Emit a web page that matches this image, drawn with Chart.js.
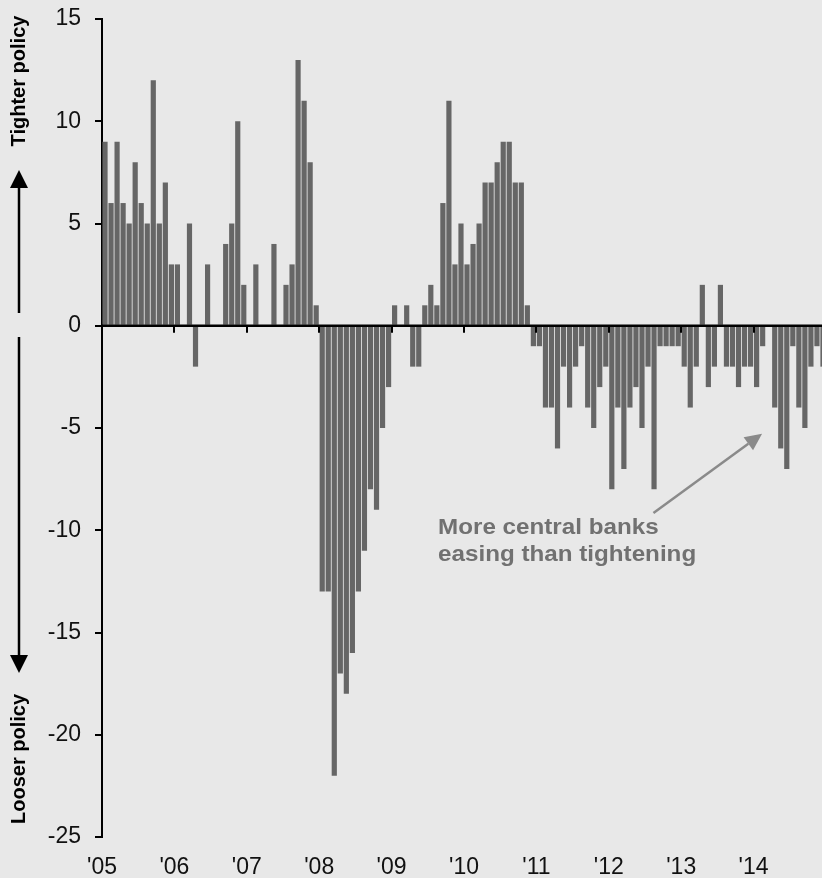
<!DOCTYPE html>
<html>
<head>
<meta charset="utf-8">
<script src="https://cdn.jsdelivr.net/npm/chart.js@4"></script>
<style>
  html, body { margin: 0; padding: 0; background: #e8e8e8; overflow: hidden; }
  #wrap { width: 828px; height: 878px; }
  canvas { display: block; }
</style>
</head>
<body>
<div id="wrap"><canvas id="chart" width="828" height="878"></canvas></div>
<script>
// Net number of central banks tightening minus easing, by month
const yearLabels = ["'05", "'06", "'07", "'08", "'09", "'10", "'11", "'12", "'13", "'14"];
const net2005 = [9, 6, 9, 6, 5, 8, 6, 5, 12, 5, 7, 3];
const net2006 = [3, 0, 5, -2, 0, 3, 0, 0, 4, 5, 10, 2];
const net2007 = [0, 3, 0, 0, 4, 0, 2, 3, 13, 11, 8, 1];
const net2008 = [-13, -13, -22, -17, -18, -16, -13, -11, -8, -9, -5, -3];
const net2009 = [1, 0, 1, -2, -2, 1, 2, 1, 6, 11, 3, 5];
const net2010 = [3, 4, 5, 7, 7, 8, 9, 9, 7, 7, 1, -1];
const net2011 = [-1, -4, -4, -6, -2, -4, -2, -1, -4, -5, -3, -2];
const net2012 = [-8, -4, -7, -4, -3, -5, -2, -8, -1, -1, -1, -1];
const net2013 = [-2, -4, -2, 2, -3, -2, 2, -2, -2, -3, -2, -2];
const net2014 = [-3, -1, 0, -4, -6, -7, -1, -4, -5, -2, -1, -2];
const yTicks = [-25, -20, -15, -10, -5, 0, 5, 10, 15];

const noteLines = ["More central banks", "easing than tightening"];

const monthly = [].concat(net2005, net2006, net2007, net2008, net2009,
                          net2010, net2011, net2012, net2013, net2014);
// each bar is centred within its month; year boundaries fall on multiples of 12
const points = monthly.map((v, i) => ({ x: i + 0.5, y: v }));

const FONT = '"Liberation Sans", Arial, Helvetica, sans-serif';

// zero line with year marks, side captions and the annotation arrow
const decorations = {
  id: 'decorations',
  afterDatasetsDraw(chart) {
    const { ctx, scales: { x, y }, chartArea } = chart;
    const y0 = y.getPixelForValue(0);
    ctx.save();
    ctx.strokeStyle = '#000';
    ctx.lineWidth = 2.5;
    ctx.beginPath();
    ctx.moveTo(chartArea.left, y0);
    ctx.lineTo(chart.width, y0);
    ctx.stroke();
    ctx.lineWidth = 2;
    ctx.beginPath();
    for (let i = 1; i < yearLabels.length; i++) {
      const px = Math.round(x.getPixelForValue(i * 12));
      ctx.moveTo(px, y0);
      ctx.lineTo(px, y0 + 7);
    }
    ctx.stroke();
    ctx.restore();
  },
  afterDraw(chart) {
    const { ctx, scales: { x, y } } = chart;
    ctx.save();

    // direction captions on the far left
    const cx = 19;
    ctx.fillStyle = '#000';
    ctx.strokeStyle = '#000';
    ctx.font = 'bold 20px ' + FONT;
    ctx.textAlign = 'center';
    ctx.textBaseline = 'middle';
    [['Tighter policy', 81], ['Looser policy', 759]].forEach(([t, cy]) => {
      ctx.save();
      ctx.translate(cx, cy);
      ctx.rotate(-Math.PI / 2);
      ctx.fillText(t, 0, 0);
      ctx.restore();
    });
    ctx.lineWidth = 2.5;
    ctx.beginPath();
    ctx.moveTo(cx, 313); ctx.lineTo(cx, 186);
    ctx.moveTo(cx, 337); ctx.lineTo(cx, 655);
    ctx.stroke();
    ctx.beginPath();
    ctx.moveTo(cx, 170); ctx.lineTo(cx - 9, 188); ctx.lineTo(cx + 9, 188); ctx.closePath();
    ctx.moveTo(cx, 673); ctx.lineTo(cx - 9, 655); ctx.lineTo(cx + 9, 655); ctx.closePath();
    ctx.fill();

    // annotation text, anchored in data units
    const tx = x.getPixelForValue(55.7);
    const ty = y.getPixelForValue(-10.2);
    ctx.fillStyle = '#717171';
    ctx.font = 'bold 22px ' + FONT;
    ctx.textAlign = 'left';
    ctx.textBaseline = 'alphabetic';
    noteLines.forEach((line, i) => {
      ctx.save();
      ctx.translate(tx, ty + i * 27);
      ctx.scale(1.1, 1);
      ctx.fillText(line, 0, 0);
      ctx.restore();
    });

    // arrow pointing at the recent easing bars
    const ax0 = x.getPixelForValue(91.4), ay0 = y.getPixelForValue(-9.16);
    const ax1 = x.getPixelForValue(109.4), ay1 = y.getPixelForValue(-5.28);
    const ang = Math.atan2(ay1 - ay0, ax1 - ax0);
    const headLen = 17, headHalf = 8;
    const bx = ax1 - headLen * Math.cos(ang), by = ay1 - headLen * Math.sin(ang);
    ctx.strokeStyle = '#8a8a8a';
    ctx.fillStyle = '#8a8a8a';
    ctx.lineWidth = 2.5;
    ctx.beginPath();
    ctx.moveTo(ax0, ay0);
    ctx.lineTo(bx, by);
    ctx.stroke();
    ctx.beginPath();
    ctx.moveTo(ax1, ay1);
    ctx.lineTo(bx + headHalf * Math.sin(ang), by - headHalf * Math.cos(ang));
    ctx.lineTo(bx - headHalf * Math.sin(ang), by + headHalf * Math.cos(ang));
    ctx.closePath();
    ctx.fill();
    ctx.restore();
  }
};

new Chart(document.getElementById('chart'), {
  type: 'bar',
  data: {
    datasets: [{
      data: points,
      backgroundColor: '#666666',
      borderWidth: 0,
      barPercentage: 0.86,
      categoryPercentage: 1
    }]
  },
  options: {
    responsive: false,
    animation: false,
    devicePixelRatio: 1,
    layout: { padding: { top: 19, right: 2, left: 0, bottom: 0 } },
    plugins: { legend: { display: false }, tooltip: { enabled: false } },
    scales: {
      x: {
        type: 'linear',
        min: 0,
        max: 120,
        offset: false,
        grid: { display: false, drawTicks: false, offset: false },
        border: { display: false },
        afterFit(s) { s.height = 41; s.paddingLeft = 0; s.paddingRight = 0; },
        ticks: {
          stepSize: 12,
          autoSkip: false,
          maxRotation: 0,
          padding: 17,
          color: '#111',
          font: { family: FONT, size: 23 },
          callback: (v) => yearLabels[v / 12] ?? ''
        }
      },
      y: {
        min: -25,
        max: 15,
        afterFit(s) { s.width = 102; s.paddingTop = 0; s.paddingBottom = 0; },
        afterBuildTicks(s) { s.ticks = yTicks.map(v => ({ value: v })); },
        grid: { drawOnChartArea: false, drawTicks: true, tickLength: 7, lineWidth: 2, color: '#000' },
        border: { display: true, color: '#000', width: 2 },
        ticks: {
          padding: 14,
          color: '#111',
          font: { family: FONT, size: 23 }
        }
      }
    }
  },
  plugins: [decorations]
});
</script>
</body>
</html>
